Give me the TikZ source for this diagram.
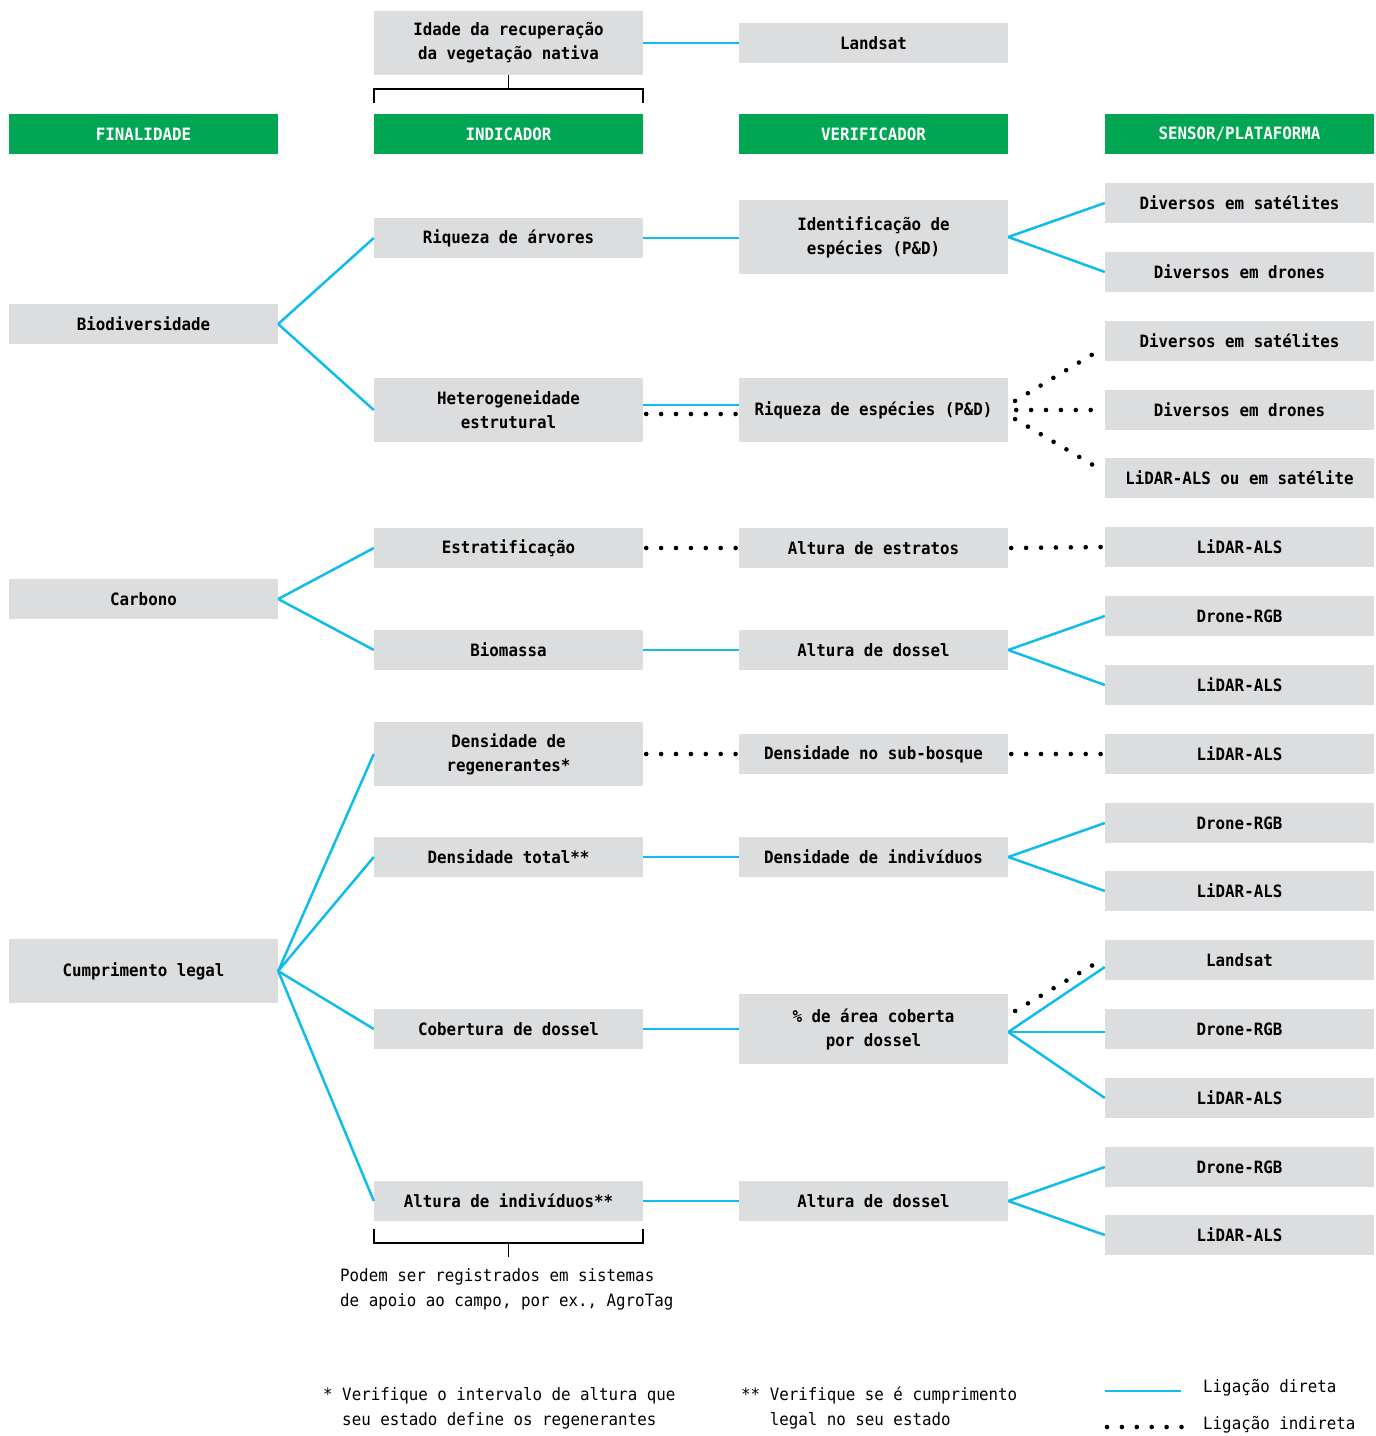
\documentclass[tikz,border=0pt]{standalone}
\usepackage{fontspec}
\usepackage{xcolor}
\usetikzlibrary{positioning}

\newfontfamily\monofont[FakeStretch=0.93]{DejaVu Sans Mono}
\newcommand{\boxtext}{\monofont\bfseries\fontsize{17}{24}\selectfont}
\newcommand{\notetext}{\monofont\fontsize{17}{25}\selectfont}

\definecolor{boxgray}{RGB}{220,221,223}
\definecolor{headgreen}{RGB}{0,166,81}
\definecolor{linkblue}{RGB}{16,188,236}

\begin{document}
\begin{tikzpicture}[
    x=1pt, y=-1pt,
    box/.style={rectangle, fill=boxgray, minimum width=269pt, minimum height=40pt, inner sep=0pt, align=center, font=\boxtext},
    tallbox/.style={box, minimum height=64pt},
    head/.style={box, fill=headgreen, text=white},
    direct/.style={linkblue, line width=2.5pt},
    indirect/.style={line width=4.6pt, line cap=round, dash pattern=on 0pt off 14.9pt},
    bracket/.style={line width=1.5pt}
]
    \useasboundingbox (0,0) rectangle (1376,1436);

    % Headers
    \node[head] (h-fin) at (143.5,134) {FINALIDADE};
    \node[head] (h-ind) at (508.5,134) {INDICADOR};
    \node[head] (h-ver) at (873.5,134) {VERIFICADOR};
    \node[head] (h-sen) at (1239.5,134) {SENSOR/PLATAFORMA};

    % Top row
    \node[tallbox] (ind-idade) at (508.5,43) {Idade da recuperação\\da vegetação nativa};
    \node[box] (ver-landsat) at (873.5,43) {Landsat};

    % Finalidade
    \node[box] (fin-bio) at (143.5,324) {Biodiversidade};
    \node[box] (fin-carb) at (143.5,599) {Carbono};
    \node[tallbox] (fin-legal) at (143.5,971) {Cumprimento legal};

    % Indicador
    \node[box] (ind-riq) at (508.5,238) {Riqueza de árvores};
    \node[tallbox] (ind-het) at (508.5,410) {Heterogeneidade\\estrutural};
    \node[box] (ind-estr) at (508.5,548) {Estratificação};
    \node[box] (ind-bio) at (508.5,650) {Biomassa};
    \node[tallbox] (ind-reg) at (508.5,754) {Densidade de\\regenerantes*};
    \node[box] (ind-dens) at (508.5,857) {Densidade total**};
    \node[box] (ind-cob) at (508.5,1029) {Cobertura de dossel};
    \node[box] (ind-alt) at (508.5,1201) {Altura de indivíduos**};

    % Verificador
    \node[box, minimum height=74pt] (ver-id) at (873.5,237) {Identificação de\\espécies (P\&D)};
    \node[tallbox] (ver-riq) at (873.5,410) {Riqueza de espécies (P\&D)};
    \node[box] (ver-estr) at (873.5,548) {Altura de estratos};
    \node[box] (ver-dos) at (873.5,650) {Altura de dossel};
    \node[box] (ver-sub) at (873.5,754) {Densidade no sub-bosque};
    \node[box] (ver-ind) at (873.5,857) {Densidade de indivíduos};
    \node[box, minimum height=70pt] (ver-pct) at (873.5,1029) {\% de área coberta\\por dossel};
    \node[box] (ver-alt) at (873.5,1201) {Altura de dossel};

    % Sensor/Plataforma
    \node[box] (sen-1) at (1239.5,203) {Diversos em satélites};
    \node[box] (sen-2) at (1239.5,272) {Diversos em drones};
    \node[box] (sen-3) at (1239.5,341) {Diversos em satélites};
    \node[box] (sen-4) at (1239.5,410) {Diversos em drones};
    \node[box] (sen-5) at (1239.5,478) {LiDAR-ALS ou em satélite};
    \node[box] (sen-6) at (1239.5,547) {LiDAR-ALS};
    \node[box] (sen-7) at (1239.5,616) {Drone-RGB};
    \node[box] (sen-8) at (1239.5,685) {LiDAR-ALS};
    \node[box] (sen-9) at (1239.5,754) {LiDAR-ALS};
    \node[box] (sen-10) at (1239.5,823) {Drone-RGB};
    \node[box] (sen-11) at (1239.5,891) {LiDAR-ALS};
    \node[box] (sen-12) at (1239.5,960) {Landsat};
    \node[box] (sen-13) at (1239.5,1029) {Drone-RGB};
    \node[box] (sen-14) at (1239.5,1098) {LiDAR-ALS};
    \node[box] (sen-15) at (1239.5,1167) {Drone-RGB};
    \node[box] (sen-16) at (1239.5,1235) {LiDAR-ALS};

    % Brackets
    \coordinate (top-l) at (374,103);
    \coordinate (top-r) at (643,103);
    \coordinate (top-m) at (508.5,89);
    \draw[bracket] (top-l) -- (374,89) -- (643,89) -- (top-r);
    \draw[bracket] (ind-idade.south) -- (top-m);
    \coordinate (bot-l) at (374,1229);
    \coordinate (bot-r) at (643,1229);
    \coordinate (bot-m) at (508.5,1257);
    \draw[bracket] (bot-l) -- (374,1243) -- (643,1243) -- (bot-r);
    \draw[bracket] (508.5,1243) -- (bot-m);

    % Notes
    \node[anchor=west, align=left, font=\notetext, inner sep=0pt] (note-field) at (340,1289)
        {Podem ser registrados em sistemas\\de apoio ao campo, por ex., AgroTag};
    \node[anchor=west, align=left, font=\notetext, inner sep=0pt] (note-1) at (323,1408)
        {* Verifique o intervalo de altura que\\\phantom{* }seu estado define os regenerantes};
    \node[anchor=west, align=left, font=\notetext, inner sep=0pt] (note-2) at (741,1408)
        {** Verifique se é cumprimento\\\phantom{** }legal no seu estado};

    % Legend
    \coordinate (leg-d1) at (1105,1391);
    \coordinate (leg-d2) at (1181,1391);
    \coordinate (leg-i1) at (1107,1427);
    \coordinate (leg-i2) at (1182,1427);
    \draw[direct] (leg-d1) -- (leg-d2);
    \draw[indirect] (leg-i1) -- (leg-i2);
    \node[anchor=west, font=\notetext, inner sep=0pt] (leg-direct) at (1203,1388) {Ligação direta};
    \node[anchor=west, font=\notetext, inner sep=0pt] (leg-indirect) at (1203,1425) {Ligação indireta};

    % Finalidade - Indicador
    \draw[direct] (fin-bio.east) -- (ind-riq.west);
    \draw[direct] (fin-bio.east) -- (ind-het.west);
    \draw[direct] (fin-carb.east) -- (ind-estr.west);
    \draw[direct] (fin-carb.east) -- (ind-bio.west);
    \draw[direct] (fin-legal.east) -- (ind-reg.west);
    \draw[direct] (fin-legal.east) -- (ind-dens.west);
    \draw[direct] (fin-legal.east) -- (ind-cob.west);
    \draw[direct] (fin-legal.east) -- (ind-alt.west);

    % Indicador - Verificador
    \draw[direct] (ind-idade.east) -- (ver-landsat.west);
    \draw[direct] (ind-riq.east) -- (ver-id.west |- ind-riq.east);
    \draw[direct] ([yshift=5pt]ind-het.east) -- ([yshift=5pt]ver-riq.west);
    \draw[indirect, shorten <=3pt, shorten >=2pt] ([yshift=-4pt]ind-het.east) -- ([yshift=-4pt]ver-riq.west);
    \draw[indirect, shorten <=3pt, shorten >=2pt] (ind-estr.east) -- (ver-estr.west);
    \draw[direct] (ind-bio.east) -- (ver-dos.west);
    \draw[indirect, shorten <=3pt, shorten >=2pt] (ind-reg.east) -- (ver-sub.west);
    \draw[direct] (ind-dens.east) -- (ver-ind.west);
    \draw[direct] (ind-cob.east) -- (ver-pct.west);
    \draw[direct] (ind-alt.east) -- (ver-alt.west);

    % Verificador - Sensor
    \draw[direct] (ver-id.east) -- (sen-1.west);
    \draw[direct] (ver-id.east) -- (sen-2.west);
    \draw[indirect, shorten <=8pt, shorten >=3pt] ([yshift=5pt]ver-riq.east) -- ([yshift=-6pt]sen-3.west);
    \draw[indirect, shorten <=8pt, shorten >=3pt] (ver-riq.east) -- (sen-4.west);
    \draw[indirect, shorten <=8pt, shorten >=1pt] ([yshift=-5pt]ver-riq.east) -- ([yshift=6pt]sen-5.west);
    \draw[indirect, shorten <=3pt, shorten >=2pt] (ver-estr.east) -- (sen-6.west);
    \draw[direct] (ver-dos.east) -- (sen-7.west);
    \draw[direct] (ver-dos.east) -- (sen-8.west);
    \draw[indirect, shorten <=3pt, shorten >=2pt] (ver-sub.east) -- (sen-9.west);
    \draw[direct] (ver-ind.east) -- (sen-10.west);
    \draw[direct] (ver-ind.east) -- (sen-11.west);
    \draw[direct] ([yshift=-3pt]ver-pct.east) -- ([yshift=-7pt]sen-12.west);
    \draw[direct] ([yshift=-3pt]ver-pct.east) -- ([yshift=-3pt]sen-13.west);
    \draw[direct] ([yshift=-3pt]ver-pct.east) -- (sen-14.west);
    \draw[indirect, shorten <=8pt, shorten >=3pt] ([yshift=14pt]ver-pct.east) -- ([yshift=2pt]sen-12.west);
    \draw[direct] (ver-alt.east) -- (sen-15.west);
    \draw[direct] (ver-alt.east) -- (sen-16.west);
\end{tikzpicture}
\end{document}
